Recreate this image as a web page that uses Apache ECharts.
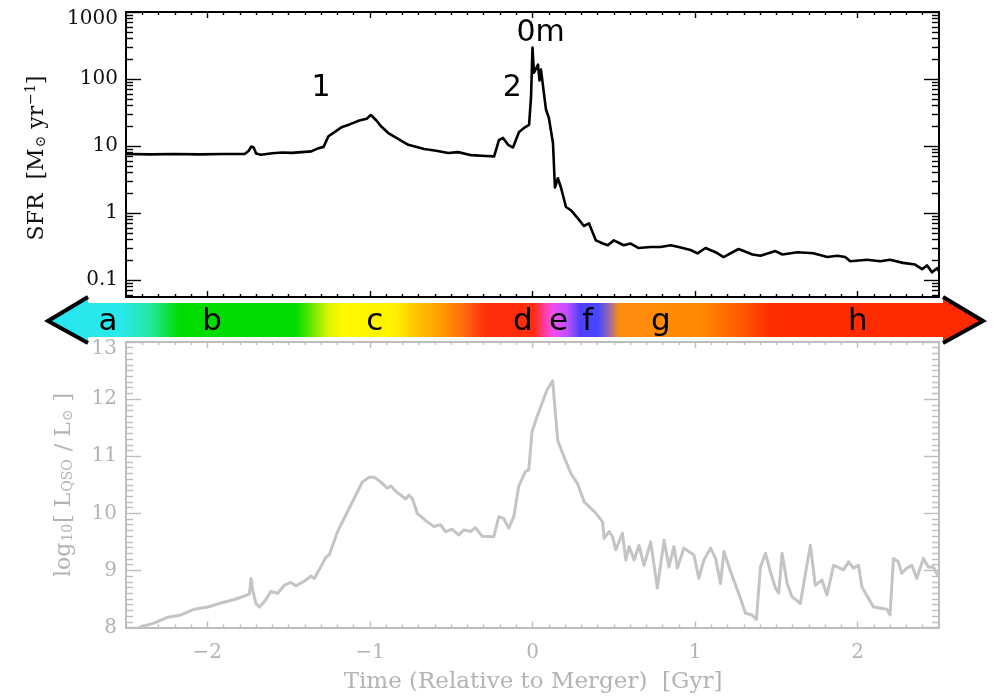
<!DOCTYPE html>
<html>
<head>
<meta charset="utf-8">
<script src="https://cdn.jsdelivr.net/npm/echarts@6/dist/echarts.min.js"></script>
<style>
  html, body { margin: 0; padding: 0; background: #ffffff; }
  #chart { width: 993px; height: 697px; }
</style>
</head>
<body>
<div id="chart"></div>
<script>
// Star formation rate [M_sun / yr] against time relative to the merger [Gyr]
const sfrTime = [-2.5, -2.35, -2.2, -2.05, -1.9, -1.77, -1.745, -1.73, -1.715, -1.70, -1.67, -1.60, -1.54, -1.48,
  -1.42, -1.36, -1.32, -1.285, -1.255, -1.22, -1.175, -1.125, -1.065, -1.02, -0.994, -0.96, -0.93, -0.887, -0.837,
  -0.764, -0.666, -0.592, -0.518, -0.457, -0.377, -0.285, -0.236, -0.206, -0.181, -0.15, -0.12, -0.083, -0.052,
  -0.021, -0.009, 0.0, 0.009, 0.034, 0.043, 0.052, 0.083, 0.101, 0.126, 0.138, 0.156, 0.175, 0.206, 0.236, 0.279,
  0.316, 0.347, 0.39, 0.433, 0.463, 0.5, 0.561, 0.604, 0.653, 0.727, 0.788, 0.85, 0.899, 0.972, 1.015, 1.064,
  1.126, 1.175, 1.267, 1.353, 1.402, 1.494, 1.537, 1.629, 1.727, 1.813, 1.874, 1.923, 1.954, 2.058, 2.138, 2.199,
  2.279, 2.353, 2.396, 2.427, 2.457, 2.488, 2.5];
const sfrValue = [7.6, 7.5, 7.6, 7.5, 7.6, 7.6, 8.5, 9.8, 9.5, 7.7, 7.4, 7.8, 8.0, 7.9,
  8.1, 8.3, 9.2, 9.7, 14, 16, 19, 21, 24, 25.5, 29, 24, 19.5, 15.6, 13.2,
  10.4, 9.0, 8.5, 7.85, 8.1, 7.3, 7.1, 7.0, 12.3, 13.2, 10.4, 9.5, 16.2, 18.6,
  20.6, 54, 295, 124, 164, 95, 138, 35, 26, 11, 2.4, 3.3, 2.4, 1.23, 1.1, 0.83,
  0.64, 0.7, 0.39, 0.35, 0.33, 0.39, 0.33, 0.35, 0.30, 0.31, 0.31, 0.33, 0.31, 0.28, 0.25, 0.30,
  0.26, 0.22, 0.29, 0.24, 0.23, 0.27, 0.24, 0.26, 0.25, 0.22, 0.23, 0.22, 0.19, 0.20, 0.19, 0.20,
  0.18, 0.17, 0.145, 0.165, 0.13, 0.15, 0.135];

// log10 of the quasar luminosity [L_sun] against the same time axis
const lqsoTime = [-2.421, -2.324, -2.242, -2.163, -2.079, -1.997, -1.917, -1.833, -1.762, -1.741, -1.731, -1.721,
  -1.701, -1.680, -1.649, -1.609, -1.567, -1.526, -1.486, -1.455, -1.404, -1.363, -1.342, -1.312, -1.271, -1.250,
  -1.199, -1.148, -1.097, -1.046, -1.005, -0.974, -0.934, -0.893, -0.872, -0.831, -0.811, -0.780, -0.760, -0.739,
  -0.709, -0.647, -0.606, -0.566, -0.535, -0.494, -0.453, -0.422, -0.382, -0.351, -0.310, -0.238, -0.207, -0.177,
  -0.146, -0.115, -0.085, -0.044, -0.023, -0.003, 0.028, 0.089, 0.124, 0.155, 0.185, 0.236, 0.277, 0.318, 0.390,
  0.431, 0.440, 0.471, 0.492, 0.512, 0.553, 0.574, 0.594, 0.625, 0.655, 0.686, 0.727, 0.768, 0.809, 0.839, 0.870,
  0.891, 0.931, 0.993, 1.023, 1.054, 1.095, 1.126, 1.156, 1.177, 1.218, 1.279, 1.310, 1.351, 1.377, 1.402, 1.433,
  1.463, 1.494, 1.514, 1.535, 1.566, 1.596, 1.647, 1.709, 1.739, 1.780, 1.811, 1.852, 1.913, 1.944, 1.974, 2.005,
  2.026, 2.097, 2.179, 2.199, 2.220, 2.250, 2.271, 2.302, 2.333, 2.363, 2.404, 2.434, 2.465, 2.496];
const lqsoValue = [8.0, 8.08, 8.18, 8.22, 8.32, 8.36, 8.43, 8.49, 8.56, 8.59, 8.86, 8.66,
  8.42, 8.36, 8.45, 8.63, 8.60, 8.74, 8.79, 8.73, 8.81, 8.90, 8.86, 9.01, 9.23, 9.27,
  9.68, 9.97, 10.26, 10.55, 10.63, 10.63, 10.55, 10.44, 10.48, 10.36, 10.32, 10.25, 10.32, 10.26,
  10.0, 9.85, 9.77, 9.80, 9.68, 9.72, 9.62, 9.71, 9.68, 9.75, 9.60, 9.59, 9.94, 9.91,
  9.74, 9.94, 10.47, 10.73, 10.76, 11.43, 11.69, 12.16, 12.32, 11.28, 11.05, 10.70, 10.52, 10.2, 10.0,
  9.85, 9.56, 9.68, 9.59, 9.36, 9.65, 9.18, 9.42, 9.18, 9.44, 9.09, 9.50, 8.69, 9.53, 9.06, 9.42,
  9.04, 9.39, 9.27, 8.86, 9.18, 9.39, 9.21, 8.77, 9.33, 8.98, 8.51, 8.25, 8.22, 8.14, 9.06, 9.30,
  8.98, 8.69, 8.60, 9.30, 8.77, 8.54, 8.42, 9.44, 8.74, 8.83, 8.57, 9.09, 9.01, 9.15, 9.04, 9.09,
  8.71, 8.36, 8.32, 8.22, 9.21, 9.15, 8.95, 9.04, 9.09, 8.86, 9.21, 9.06, 9.06, 8.89];

// Tick labels
const timeTicks = [-2, -1, 0, 1, 2];
const sfrTicks = [0.1, 1, 10, 100, 1000];
const lqsoTicks = [8, 9, 10, 11, 12, 13];

// Evolutionary stages along the time arrow, and the events marked on the SFR curve
const phaseLabels = ['a', 'b', 'c', 'd', 'e', 'f', 'g', 'h'];
const phaseTimes = [-2.61, -1.97, -0.97, -0.06, 0.16, 0.34, 0.79, 2.0];
const eventLabels = ['1', '2', '0m'];
const eventTimes = [-1.30, -0.125, 0.05];
const eventSFR = [73, 73, 480];

// ---------------------------------------------------------------------------
const T_MIN = -2.5, T_MAX = 2.5;
const LOG_MIN = -1.254, LOG_MAX = 3;
const L_MIN = 8, L_MAX = 13;
const INK = '#000000';
const GREY = '#bdbdbd';
const GREY_TEXT = '#b3b3b3';
const SERIF = '"DejaVu Serif", "Liberation Serif", serif';
const SANS = '"DejaVu Sans", "Noto Sans", sans-serif';
const LABEL_SIZE = 20;

const timeMinor = [];
for (let i = -24; i <= 24; i++) if (i % 10 !== 0) timeMinor.push(i / 10);
const sfrMajor = sfrTicks.map(v => Math.log10(v));
const sfrMinor = [];
for (let d = -2; d <= 2; d++) {
  for (let k = 2; k <= 9; k++) {
    const v = d + Math.log10(k);
    if (v > LOG_MIN && v < LOG_MAX) sfrMinor.push(v);
  }
}
const lqsoMinor = [];
for (let i = 81; i < 130; i++) if (i % 10 !== 0) lqsoMinor.push(i / 10);

function fmtTime(v) {
  const r = Math.round(v);
  return r < 0 ? '\u2212' + Math.abs(r) : String(r);
}
// the label at the very top of a panel sits a little below its tick
function fmtSfr(v) {
  let best = sfrTicks[0];
  sfrTicks.forEach(s => { if (Math.abs(Math.log10(s) - v) < Math.abs(Math.log10(best) - v)) best = s; });
  return best === sfrTicks[sfrTicks.length - 1] ? '{low|' + best + '}' : String(best);
}
function fmtLqso(v) {
  const r = Math.round(v);
  return r === lqsoTicks[lqsoTicks.length - 1] ? '{low|' + r + '}' : String(r);
}

function axis(opt) {
  const a = {
    type: 'value',
    gridIndex: opt.grid,
    position: opt.pos,
    min: opt.min,
    max: opt.max,
    silent: true,
    axisLine: { show: !!opt.line, onZero: false, lineStyle: { color: opt.color, width: 2 } },
    axisTick: { show: true, inside: true, length: opt.len, customValues: opt.ticks,
      lineStyle: { color: opt.color, width: 1.4 } },
    axisLabel: { show: false },
    splitLine: { show: false },
    minorTick: { show: false },
    minorSplitLine: { show: false }
  };
  if (opt.labels) {
    const col = opt.color === INK ? '#111111' : GREY_TEXT;
    a.axisLabel = {
      show: true, customValues: opt.ticks, formatter: opt.labels, margin: opt.margin,
      color: col, fontFamily: SERIF, fontSize: LABEL_SIZE,
      rich: { low: { color: col, fontFamily: SERIF, fontSize: LABEL_SIZE, padding: [13, 0, 0, 0] } }
    };
  }
  return a;
}

const xAxes = [];
const yAxes = [];
// top panel (grid 0): axes 0-3
xAxes.push(axis({ grid: 0, pos: 'bottom', min: T_MIN, max: T_MAX, ticks: timeTicks, len: 6, color: INK, line: true }));
xAxes.push(axis({ grid: 0, pos: 'bottom', min: T_MIN, max: T_MAX, ticks: timeMinor, len: 3, color: INK }));
xAxes.push(axis({ grid: 0, pos: 'top', min: T_MIN, max: T_MAX, ticks: timeTicks, len: 6, color: INK, line: true }));
xAxes.push(axis({ grid: 0, pos: 'top', min: T_MIN, max: T_MAX, ticks: timeMinor, len: 3, color: INK }));
yAxes.push(axis({ grid: 0, pos: 'left', min: LOG_MIN, max: LOG_MAX, ticks: sfrMajor, len: 15, color: INK, line: true,
  labels: fmtSfr, margin: 8 }));
yAxes.push(axis({ grid: 0, pos: 'left', min: LOG_MIN, max: LOG_MAX, ticks: sfrMinor, len: 7, color: INK }));
yAxes.push(axis({ grid: 0, pos: 'right', min: LOG_MIN, max: LOG_MAX, ticks: sfrMajor, len: 15, color: INK, line: true }));
yAxes.push(axis({ grid: 0, pos: 'right', min: LOG_MIN, max: LOG_MAX, ticks: sfrMinor, len: 7, color: INK }));
// bottom panel (grid 1): axes 4-7
xAxes.push(axis({ grid: 1, pos: 'bottom', min: T_MIN, max: T_MAX, ticks: timeTicks, len: 6, color: GREY, line: true,
  labels: fmtTime, margin: 15 }));
xAxes.push(axis({ grid: 1, pos: 'bottom', min: T_MIN, max: T_MAX, ticks: timeMinor, len: 3, color: GREY }));
xAxes.push(axis({ grid: 1, pos: 'top', min: T_MIN, max: T_MAX, ticks: timeTicks, len: 6, color: GREY, line: true }));
xAxes.push(axis({ grid: 1, pos: 'top', min: T_MIN, max: T_MAX, ticks: timeMinor, len: 3, color: GREY }));
yAxes.push(axis({ grid: 1, pos: 'left', min: L_MIN, max: L_MAX, ticks: lqsoTicks, len: 15, color: GREY, line: true,
  labels: fmtLqso, margin: 9 }));
yAxes.push(axis({ grid: 1, pos: 'left', min: L_MIN, max: L_MAX, ticks: lqsoMinor, len: 7, color: GREY }));
yAxes.push(axis({ grid: 1, pos: 'right', min: L_MIN, max: L_MAX, ticks: lqsoTicks, len: 15, color: GREY, line: true }));
yAxes.push(axis({ grid: 1, pos: 'right', min: L_MIN, max: L_MAX, ticks: lqsoMinor, len: 7, color: GREY }));

const chart = echarts.init(document.getElementById('chart'), null, { renderer: 'canvas' });

chart.setOption({
  animation: false,
  backgroundColor: '#ffffff',
  grid: [
    { left: 126, right: 54, top: 12, height: 285, outerBoundsMode: 'none', containLabel: false },
    { left: 126, right: 54, top: 342, height: 285.5, outerBoundsMode: 'none', containLabel: false }
  ],
  xAxis: xAxes,
  yAxis: yAxes,
  series: [
    {
      name: 'SFR', type: 'line', xAxisIndex: 0, yAxisIndex: 0,
      data: sfrTime.map((t, i) => [t, Math.log10(sfrValue[i])]),
      showSymbol: false, symbol: 'none', clip: true, silent: true,
      lineStyle: { color: INK, width: 2.6, join: 'round' }, z: 5
    },
    {
      name: 'L_QSO', type: 'line', xAxisIndex: 4, yAxisIndex: 4,
      data: lqsoTime.map((t, i) => [t, lqsoValue[i]]),
      showSymbol: false, symbol: 'none', clip: true, silent: true,
      lineStyle: { color: '#c4c4c4', width: 3, join: 'round' }, z: 5
    }
  ]
});

// ---- decorations placed through the time axis -----------------------------
const toX = t => chart.convertToPixel({ xAxisIndex: 0 }, t);
const band = { x0: 48, x1: 983, neck0: 88, neck1: 943, top: 303, bottom: 337, headTop: 297, headBottom: 343, mid: 321 };
const bandSpan = band.x1 - band.x0;
const stopAt = px => Math.min(1, Math.max(0, (px - band.x0) / bandSpan));
const bandStops = [
  [48, '#25e6f0'], [122, '#2ae9ea'], [150, '#22e8a0'], [170, '#0cde30'], [180, '#00dc00'],
  [296, '#02dc02'], [312, '#6ae800'], [328, '#d8f400'], [342, '#fff800'], [395, '#fff200'],
  [415, '#ffc600'], [445, '#ff9600'], [470, '#ff5a10'], [486, '#ff2c08'], [534, '#ff2c10'],
  [544, '#ff3c98'], [553, '#f24cf0'], [567, '#c050ff'], [580, '#5040f8'], [598, '#4646ff'],
  [609, '#9468a8'], [619, '#ff8c10'], [700, '#ff8a00'], [740, '#ff5c00'], [770, '#ff2c00'], [983, '#ff2a00']
].map(s => ({ offset: stopAt(s[0]), color: s[1] }));

const graphics = [];
graphics.push({
  type: 'polygon', silent: true, z: 10,
  shape: { points: [
    [band.x0, band.mid], [band.neck0, band.headTop], [band.neck0, band.top], [band.neck1, band.top],
    [band.neck1, band.headTop], [band.x1, band.mid], [band.neck1, band.headBottom], [band.neck1, band.bottom],
    [band.neck0, band.bottom], [band.neck0, band.headBottom]
  ] },
  style: { fill: new echarts.graphic.LinearGradient(band.x0, 0, band.x1, 0, bandStops, true) }
});
graphics.push({
  type: 'polyline', silent: true, z: 11,
  shape: { points: [[band.neck0, band.headTop], [band.x0, band.mid], [band.neck0, band.headBottom]] },
  style: { stroke: '#000', lineWidth: 4, fill: null, lineJoin: 'miter' }
});
graphics.push({
  type: 'polyline', silent: true, z: 11,
  shape: { points: [[band.neck1, band.headTop], [band.x1, band.mid], [band.neck1, band.headBottom]] },
  style: { stroke: '#000', lineWidth: 4, fill: null, lineJoin: 'miter' }
});
phaseLabels.forEach((lab, i) => {
  graphics.push({
    type: 'text', silent: true, z: 12,
    x: toX(phaseTimes[i]), y: 322,
    style: { text: lab, fill: '#000', font: '31px ' + SANS, align: 'center', verticalAlign: 'middle' }
  });
});
eventLabels.forEach((lab, i) => {
  const p = chart.convertToPixel({ xAxisIndex: 0, yAxisIndex: 0 }, [eventTimes[i], Math.log10(eventSFR[i])]);
  graphics.push({
    type: 'text', silent: true, z: 12, x: p[0], y: p[1],
    style: { text: lab, fill: '#000', font: '30px ' + SANS, align: 'center', verticalAlign: 'middle' }
  });
});

// axis titles
graphics.push({
  type: 'text', silent: true, z: 12, x: 37, y: 158, rotation: Math.PI / 2,
  style: {
    text: '{a|SFR  [M}{s|\u2299}{a| yr}{p|\u22121}{a|]}',
    align: 'center', verticalAlign: 'middle',
    rich: {
      a: { fontFamily: SERIF, fontSize: 22, fill: '#111' },
      s: { fontFamily: SERIF, fontSize: 14, fill: '#111', padding: [9, 0, 0, 1] },
      p: { fontFamily: SERIF, fontSize: 14, fill: '#111', padding: [0, 0, 11, 1] }
    }
  }
});
graphics.push({
  type: 'text', silent: true, z: 12, x: 64, y: 485, rotation: Math.PI / 2,
  style: {
    text: '{a|log}{s|10}{a|[ L}{s|QSO}{a| / L}{s|\u2299}{a| ]}',
    align: 'center', verticalAlign: 'middle',
    rich: {
      a: { fontFamily: SERIF, fontSize: 22, fill: GREY_TEXT },
      s: { fontFamily: SERIF, fontSize: 14, fill: GREY_TEXT, padding: [9, 1, 0, 1] }
    }
  }
});
graphics.push({
  type: 'text', silent: true, z: 12, x: 533, y: 682,
  style: { text: 'Time (Relative to Merger)  [Gyr]', fill: GREY_TEXT, font: '23px ' + SERIF,
    align: 'center', verticalAlign: 'middle' }
});

chart.setOption({ graphic: graphics });
</script>
</body>
</html>
